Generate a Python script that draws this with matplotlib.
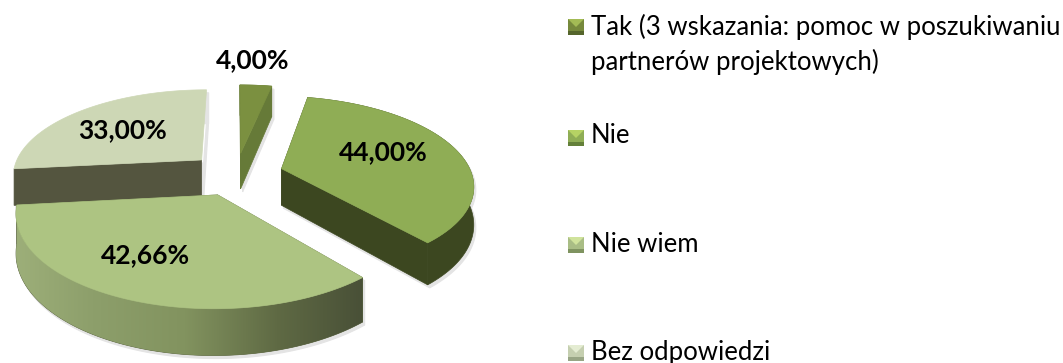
import matplotlib
matplotlib.use("Agg")
import matplotlib.pyplot as plt
from matplotlib.colors import LinearSegmentedColormap
from matplotlib.patches import Polygon, Rectangle
import numpy as np

categories = ["Tak (3 wskazania: pomoc w poszukiwaniu\npartnerów projektowych)", "Nie", "Nie wiem", "Bez odpowiedzi"]
values = [4.00, 44.00, 42.66, 33.00]

top_colors = ["#7b9040", "#8fad55", "#adc482", "#cdd7b5"]
side_colors = ["#667a38", "#3c4720", "#5a6440", "#54553f"]
legend_colors = ["#76893c", "#8fad55", "#a9bd85", "#c5cfb0"]
legend_tops = ["#a3bb55", "#b6d264", "#d0e39c", "#e4ecd2"]
legend_bottoms = ["#55652c", "#64803a", "#7f9360", "#98a585"]
label_pos = [(253, 60), (383, 152), (145, 255), (122, 130)]
legend_base = [35, 143, 252, 360]
legend_box = [19, 130, 237, 345]

# pie projection, in figure pixels
cx, cy = 236, 174
radius = 190
tilt = 0.455
persp = 0.17
depth = 37
explode = 0.25


def project(u, v, z=0.0):
    s = 1 / (1 + persp * v)
    return np.column_stack([cx + radius * u * s, cy - radius * tilt * v * s + depth * z * s])


def slice_points(a0, a1, z=0.0):
    mid = np.radians((a0 + a1) / 2)
    ou, ov = explode * np.sin(mid), explode * np.cos(mid)
    t = np.radians(np.linspace(a0, a1, 120))
    u = np.concatenate([[0], np.sin(t)]) + ou
    v = np.concatenate([[0], np.cos(t)]) + ov
    return project(u, v, z)


def face(top, bottom, j, k):
    return np.array([top[j], top[k], bottom[k], bottom[j]])


fig = plt.figure(figsize=(10.63, 3.63), dpi=100)
ax = fig.add_axes([0, 0, 1, 1])
ax.axis("off")

edges = np.cumsum([0] + values) / sum(values) * 360

for i in [3, 0, 1, 2]:
    top = slice_points(edges[i], edges[i + 1])
    bottom = slice_points(edges[i], edges[i + 1], 1.0)
    n = len(top)
    order = [1, 2, 3, 0][i]
    wall = np.vstack([top[1:], bottom[1:][::-1]])

    # soft shadow first
    for shape in [wall, face(top, bottom, 0, 1), face(top, bottom, n - 1, 0)]:
        ax.add_patch(Polygon(shape + [2, 3], fc="#e4e4e4", ec="#e4e4e4", lw=0.8, zorder=1))

    # last slice only shows its front cut face
    shapes = [face(top, bottom, 0, 1)] if i == 3 else [wall, face(top, bottom, 0, 1), face(top, bottom, n - 1, 0)]
    for shape in shapes:
        ax.add_patch(Polygon(shape, fc=side_colors[i], ec=side_colors[i], lw=0.5, zorder=2 + order))

    if i == 2:
        # front slice has a lit rounded wall
        clip = Polygon(wall, transform=ax.transData)
        cmap = LinearSegmentedColormap.from_list("wall", ["#a0b27c", "#8d9f6b", "#82935f", "#5f6a44", "#474e36"])
        im = ax.imshow(np.linspace(0, 1, 256).reshape(1, -1), extent=[0, 370, 360, 200], cmap=cmap,
                       aspect="auto", zorder=2 + order + 0.2)
        im.set_clip_path(clip)
    ax.add_patch(Polygon(top, fc=top_colors[i], ec=top_colors[i], lw=0.5, zorder=2.5 + order))

for val, (x, y) in zip(values, label_pos):
    ax.text(x, y, f"{val:.2f}%".replace(".", ","), family="Lato", weight="bold", fontsize=19,
            ha="center", va="center", color="black", zorder=10)

for i, name in enumerate(categories):
    y = legend_box[i]
    ax.add_patch(Rectangle((568, y), 16, 16, fc=legend_colors[i], ec="none", zorder=3))
    ax.add_patch(Polygon([(568, y), (584, y), (576, y + 8)], fc=legend_tops[i], ec="none", zorder=4))
    ax.add_patch(Rectangle((568, y + 12), 16, 4, fc=legend_bottoms[i], ec="none", zorder=4))
    lines = name.split("\n")
    ax.text(591, legend_base[i], lines[0], family="Lato", fontsize=18.5, ha="left", va="baseline", color="black")
    if len(lines) > 1:
        ax.text(591, legend_base[i] + 35, lines[1], family="Lato", fontsize=18.5, ha="left", va="baseline", color="black")

ax.set_xlim(0, 1063)
ax.set_ylim(363, 0)
fig.savefig("out.png", dpi=100)
